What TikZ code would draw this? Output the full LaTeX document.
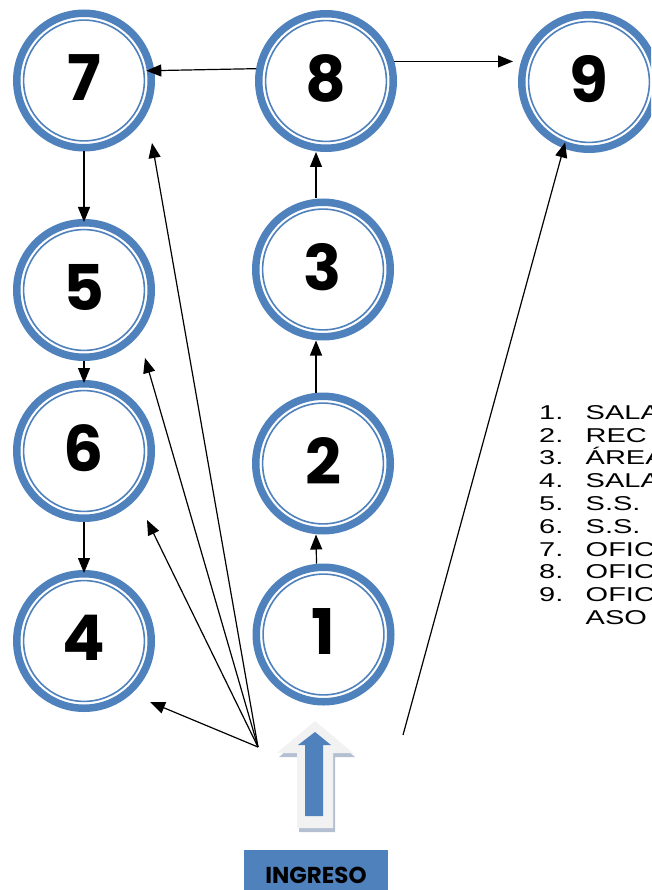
\documentclass[tikz,border=0pt]{standalone}
\usepackage{fontspec}
\usepackage{graphicx}
\setmainfont{Poppins}
\newfontfamily\listafont{Liberation Sans}
\usetikzlibrary{arrows.meta}

\definecolor{azul}{HTML}{4F81BD}
\definecolor{grisclaro}{HTML}{F2F2F2}
\definecolor{sombra}{HTML}{B4C0D2}

\tikzset{
  sala/.style={circle, draw=azul, line width=7.5pt, fill=white,
    minimum size=134.5pt, inner sep=0pt, text depth=6pt,
    font=\fontsize{63}{63}\selectfont\bfseries},
  flecha/.style={-{Triangle[length=15pt,width=12pt]}, line width=1.2pt},
  item/.style={anchor=base west, inner sep=0pt,
    font=\listafont\fontsize{20}{20}\selectfont},
  caja/.style={fill=azul, minimum width=144pt, minimum height=50pt,
    inner sep=0pt, font=\fontsize{23}{23}\selectfont\bfseries}
}

\begin{document}
\begin{tikzpicture}[x=1pt, y=-1pt]
  \useasboundingbox (0,0) rectangle (651,890);
  \fill[white] (0,0) rectangle (651,890);
  \clip (0,0) rectangle (651,890);

  % salas
  \node[sala] (s7) at (84,80.5) {7};
  \node[sala] (s8) at (326,81) {8};
  \node[sala] (s9) at (589,82) {9};
  \node[sala] (s3) at (323,269.5) {3};
  \node[sala] (s5) at (84,290) {5};
  \node[sala] (s6) at (84,451) {6};
  \node[sala] (s2) at (323,463.5) {2};
  \node[sala] (s4) at (84,641) {4};
  \node[sala] (s1) at (323.5,634.5) {1};
  \foreach \s in {1,...,9}
    \draw[azul, line width=1.6pt] (s\s.center) circle (60.4pt);

  % recorrido
  \draw[flecha, shorten >=-8pt] (s8.170) -- (s7.8);
  \draw[flecha] (s8.16) -- ([xshift=-5pt]s9.west |- s8.16);
  \draw[flecha, shorten >=-3pt] (s7) -- (s5);
  \draw[flecha, shorten >=-3pt] (s5) -- (s6);
  \draw[flecha, shorten >=-3pt] (s6) -- (s4);
  \draw[flecha] ([xshift=-7pt]s1.north) -- ([xshift=-7pt]s2.south);
  \draw[flecha] ([xshift=-7pt]s2.north) -- ([xshift=-7pt]s3.south);
  \draw[flecha] ([xshift=-7pt]s3.north) -- ([xshift=-7pt]s3.north |- s8.south);

  % desde el ingreso
  \coordinate (ent) at (258,747);
  \coordinate (ent9) at (403,735);
  \coordinate (a4) at (150,702);
  \coordinate (a6) at (147,520);
  \coordinate (a5) at (145,358);
  \coordinate (a7) at (152,143);
  \foreach \a in {a4,a6,a5,a7}
    \draw[flecha] (ent) -- (\a);
  \draw[flecha, shorten >=-6pt] (ent9) -- (s9.-111);

  % flecha de ingreso
  \begin{scope}[shift={(2,4)}]
    \fill[sombra] (315,721) -- (353,753) -- (333,753) -- (333,828)
      -- (297,828) -- (297,753) -- (277,753) -- cycle;
  \end{scope}
  \fill[grisclaro] (315,721) -- (353,753) -- (333,753) -- (333,828)
    -- (297,828) -- (297,753) -- (277,753) -- cycle;
  \fill[azul] (315,732) -- (331,745) -- (323,745) -- (323,816)
    -- (305,816) -- (305,745) -- (298,745) -- cycle;

  \node[caja] (ingreso) at (316,875) {INGRESO};

  % leyenda
  \foreach \n/\t [count=\i] in {1./SALA, 2./REC, 3./ÁREA, 4./SALA,
      5./S.S., 6./S.S., 7./OFIC, 8./OFIC, 9./OFIC} {
    \node[item] (n\i) at (539,{419.3+(\i-1)*22.8}) {\scalebox{1.45}[1]{\n}};
    \node[item] (t\i) at (585.5,{419.3+(\i-1)*22.8}) {\scalebox{1.45}[1]{\t}};
  }
  \node[item] (t10) at (585.5,624.5) {\scalebox{1.45}[1]{ASO}};
\end{tikzpicture}
\end{document}
